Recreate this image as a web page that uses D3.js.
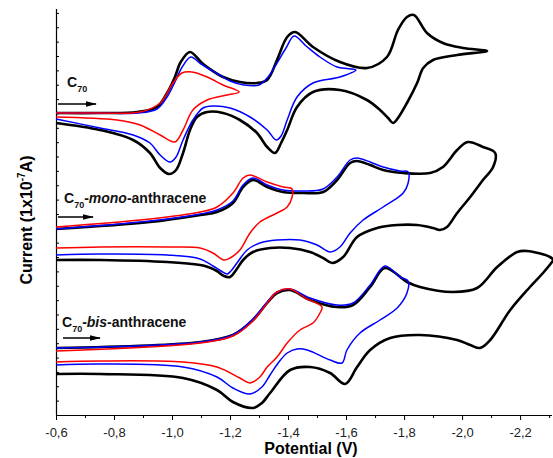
<!DOCTYPE html>
<html>
<head>
<meta charset="utf-8">
<script src="https://cdn.jsdelivr.net/npm/d3@7"></script>
<style>
  body { margin: 0; background: #fff; }
  text { font-family: "Liberation Sans", Arial, sans-serif; }
</style>
</head>
<body>
<div id="chart"></div>
<script>
// potential (V) vs current (arbitrary offset units)
const c70Black = [
  [-0.60,30.2],[-0.75,30.2],[-0.88,30.3],[-0.948,30.8],[-0.983,32.2],[-1.01,33.8],[-1.03,35.3],[-1.062,36.3],
  [-1.10,35.3],[-1.121,34.8],[-1.176,33.8],[-1.234,33.3],[-1.293,33.2],[-1.328,33.5],[-1.362,35.5],[-1.397,37.8],
  [-1.424,38.3],[-1.486,36.8],[-1.579,35.3],[-1.672,34.7],[-1.741,35.8],[-1.779,38.5],[-1.81,39.8],[-1.834,40.0],
  [-1.879,38.2],[-1.934,37.2],[-2.003,36.7],[-2.086,36.4],
  [-1.983,36.0],[-1.90,35.5],[-1.866,34.7],[-1.845,33.2],[-1.81,31.2],[-1.779,29.7],[-1.762,29.2],[-1.745,29.7],
  [-1.717,30.5],[-1.672,31.5],[-1.579,32.5],[-1.486,32.3],[-1.431,30.8],[-1.397,28.5],[-1.376,27.2],
  [-1.355,26.2],[-1.328,26.8],[-1.293,28.2],[-1.234,29.5],[-1.176,30.2],[-1.121,30.3],[-1.086,29.8],[-1.062,28.5],
  [-1.038,26.2],[-1.014,24.5],[-0.99,24.1],[-0.959,24.7],[-0.924,26.2],[-0.866,27.5],[-0.752,28.5],[-0.60,29.2]
];
const c70Blue = [
  [-0.60,30.2],[-0.75,30.2],[-0.88,30.2],[-0.948,30.6],[-0.983,31.8],[-1.01,33.3],[-1.035,34.8],[-1.065,35.8],
  [-1.10,35.1],[-1.152,34.2],[-1.20,33.4],[-1.248,33.0],[-1.30,33.0],[-1.331,33.8],[-1.362,35.2],[-1.393,36.7],
  [-1.421,37.9],[-1.462,36.9],[-1.51,35.8],[-1.569,34.8],[-1.634,34.5],
  [-1.579,33.8],[-1.486,33.2],[-1.431,31.8],[-1.397,29.5],[-1.376,27.9],[-1.359,27.5],[-1.328,28.5],[-1.269,29.8],
  [-1.20,30.7],[-1.141,30.9],[-1.107,30.7],[-1.072,29.5],[-1.038,27.5],[-1.014,25.8],[-0.993,25.3],[-0.959,26.0],
  [-0.924,27.2],[-0.866,28.0],[-0.752,28.7],[-0.60,29.6]
];
const c70Red = [
  [-0.60,30.2],[-0.75,30.2],[-0.89,30.3],[-0.959,31.2],[-1.003,33.2],[-1.034,34.2],[-1.069,34.3],[-1.121,33.8],
  [-1.176,33.0],[-1.231,32.3],
  [-1.19,32.0],[-1.121,31.5],[-1.072,30.5],[-1.038,28.5],[-1.01,27.3],[-0.959,28.0],[-0.89,29.0],[-0.81,29.5],
  [-0.60,29.8]
];

const monoBlack = [
  [-0.60,18.6],[-0.924,19.3],[-1.097,20.0],[-1.155,20.3],[-1.21,21.2],[-1.245,22.8],[-1.279,23.5],[-1.328,22.8],
  [-1.383,22.3],[-1.452,22.2],[-1.521,22.3],[-1.569,23.5],[-1.614,25.2],[-1.638,25.4],[-1.683,25.0],[-1.728,24.5],
  [-1.797,24.2],[-1.89,24.2],[-1.934,24.8],[-1.983,26.5],[-2.02,27.3],[-2.072,26.8],[-2.114,26.2],
  [-2.107,24.8],[-2.072,23.5],[-2.028,21.8],[-1.983,20.2],[-1.948,18.8],[-1.924,18.5],[-1.90,18.7],[-1.845,19.0],
  [-1.776,19.0],[-1.707,18.7],[-1.638,17.8],[-1.59,15.8],[-1.552,15.2],[-1.521,15.7],[-1.476,16.3],[-1.407,16.7],
  [-1.338,16.7],[-1.279,16.3],[-1.245,15.5],[-1.221,14.5],[-1.20,13.8],[-1.179,13.9],[-1.155,14.4],[-1.124,14.8],
  [-1.097,15.0],[-0.983,15.3],[-0.752,15.5],[-0.60,15.5]
];
const monoBlue = [
  [-0.60,18.6],[-0.924,19.4],[-1.097,20.1],[-1.155,20.5],[-1.21,21.4],[-1.245,23.0],[-1.279,23.7],[-1.328,23.0],
  [-1.383,22.5],[-1.452,22.4],[-1.521,22.6],[-1.569,23.8],[-1.614,25.5],[-1.638,25.7],[-1.683,25.3],[-1.728,24.8],
  [-1.786,24.4],[-1.814,24.3],
  [-1.814,23.2],[-1.797,22.2],[-1.728,20.8],[-1.659,19.5],[-1.614,18.2],[-1.579,16.8],[-1.545,16.3],[-1.50,17.0],
  [-1.441,17.5],[-1.362,17.5],[-1.303,17.2],[-1.259,16.5],[-1.224,15.2],[-1.203,14.4],[-1.19,14.1],[-1.169,14.4],
  [-1.141,14.9],[-1.097,15.6],[-0.983,16.0],[-0.752,16.1],[-0.60,16.0]
];
const monoRed = [
  [-0.60,18.8],[-0.924,19.6],[-1.097,20.3],[-1.155,20.8],[-1.21,22.2],[-1.245,23.7],[-1.269,24.0],[-1.328,23.3],
  [-1.383,22.8],[-1.414,22.6],
  [-1.414,21.8],[-1.397,20.8],[-1.362,20.2],[-1.303,19.3],[-1.269,18.2],[-1.234,16.5],[-1.20,15.7],[-1.179,15.5],
  [-1.141,16.2],[-1.097,16.7],[-0.983,16.8],[-0.752,16.8],[-0.60,16.7]
];

const bisBlack = [
  [-0.60,6.7],[-1.097,7.3],[-1.21,8.0],[-1.279,9.5],[-1.328,11.2],[-1.362,12.2],[-1.407,12.5],[-1.476,11.5],
  [-1.569,10.8],[-1.624,11.0],[-1.683,12.8],[-1.734,14.7],[-1.81,13.3],[-1.855,12.8],[-1.969,12.3],[-2.052,12.7],
  [-2.121,14.8],[-2.19,16.3],[-2.224,16.4],[-2.303,15.8],[-2.314,15.5],
  [-2.31,15.3],[-2.279,14.2],[-2.234,12.8],[-2.166,10.5],[-2.097,7.5],[-2.062,6.7],[-2.028,7.0],[-1.983,7.5],
  [-1.855,8.0],[-1.752,7.7],[-1.683,6.5],[-1.638,4.8],[-1.597,3.1],[-1.545,4.2],[-1.476,4.8],[-1.407,4.5],
  [-1.338,2.2],[-1.31,1.2],[-1.279,0.7],[-1.21,1.3],[-1.155,2.5],[-1.038,3.7],[-0.752,4.1],[-0.60,4.1]
];
const bisBlue = [
  [-0.60,6.7],[-1.097,7.3],[-1.21,8.0],[-1.279,9.6],[-1.328,11.3],[-1.362,12.3],[-1.407,12.6],[-1.476,11.7],
  [-1.569,11.0],[-1.624,11.2],[-1.683,13.0],[-1.734,14.9],[-1.786,13.8],[-1.814,13.4],
  [-1.81,12.2],[-1.776,10.7],[-1.717,9.5],[-1.648,8.2],[-1.603,6.5],[-1.586,5.2],[-1.545,5.5],[-1.466,6.5],
  [-1.431,6.6],[-1.397,6.2],[-1.366,5.2],[-1.338,4.0],[-1.31,2.8],[-1.269,2.1],[-1.21,2.7],[-1.155,3.8],
  [-1.038,4.8],[-0.752,5.1],[-0.60,5.0]
];
const bisRed = [
  [-0.60,6.4],[-1.097,7.2],[-1.21,7.9],[-1.279,9.4],[-1.328,11.2],[-1.362,12.3],[-1.407,12.6],[-1.459,11.7],
  [-1.517,10.8],
  [-1.51,10.2],[-1.486,9.2],[-1.441,8.5],[-1.397,7.2],[-1.362,5.8],[-1.328,4.8],[-1.303,3.8],[-1.269,3.2],
  [-1.234,3.7],[-1.155,4.8],[-1.038,5.3],[-0.752,5.4],[-0.60,5.3]
];

const xMajorTicks = [-0.6, -0.8, -1.0, -1.2, -1.4, -1.6, -1.8, -2.0, -2.2];
const xMinorTicks = [-0.7, -0.9, -1.1, -1.3, -1.5, -1.7, -1.9, -2.1, -2.3];

const svgWidth = 553;
const svgHeight = 458;
const margin = { top: 9, right: 1, bottom: 43, left: 56 };
const width = svgWidth - margin.left - margin.right;
const height = svgHeight - margin.top - margin.bottom;

const svg = d3.select("#chart")
  .append("svg")
  .attr("width", svgWidth)
  .attr("height", svgHeight);

svg.append("defs").append("marker")
  .attr("id", "arrow")
  .attr("markerUnits", "userSpaceOnUse")
  .attr("markerWidth", 11)
  .attr("markerHeight", 8)
  .attr("refX", 10)
  .attr("refY", 4)
  .attr("orient", "auto")
  .append("path")
  .attr("d", "M0,1.2 L11,4 L0,6.8 z")
  .attr("fill", "#000");

const chartGroup = svg.append("g")
  .attr("transform", `translate(${margin.left}, ${margin.top})`);

const xScale = d3.scaleLinear().domain([-0.6, -2.31]).range([0, width]);
const yScale = d3.scaleLinear().domain([0, 40.6]).range([height, 0]);

// x axis, major + minor ticks pointing out
const bottomAxis = d3.axisBottom(xScale)
  .tickValues(xMajorTicks)
  .tickSize(5)
  .tickFormat(d => d.toFixed(1).replace(".", ","));
const xAxis = chartGroup.append("g")
  .attr("transform", `translate(0, ${height})`)
  .call(bottomAxis);
xAxis.select(".domain").attr("d", `M0,0.5H${width}`).attr("stroke-width", 1.2);
xAxis.selectAll("text").attr("font-size", "13px").attr("dy", "1.05em").attr("fill", "#222");

chartGroup.append("g")
  .attr("transform", `translate(0, ${height})`)
  .call(d3.axisBottom(xScale).tickValues(xMinorTicks).tickSize(3).tickFormat(""))
  .select(".domain").remove();

// y axis, no labels, ticks inside
const yTickValues = d3.range(0, 40.7, 1.436);
const leftAxis = d3.axisRight(yScale).tickValues(yTickValues).tickSize(3).tickFormat("");
const yAxis = chartGroup.append("g").call(leftAxis);
yAxis.select(".domain").attr("d", `M0.5,0V${height}`).attr("stroke-width", 1.2);

const line = d3.line()
  .x(d => xScale(d[0]))
  .y(d => yScale(d[1]))
  .curve(d3.curveCatmullRom.alpha(0.5));

const curves = [
  { data: c70Black, color: "#000", w: 2.6 },
  { data: monoBlack, color: "#000", w: 2.6 },
  { data: bisBlack, color: "#000", w: 2.6 },
  { data: c70Blue, color: "#0000ff", w: 1.5 },
  { data: monoBlue, color: "#0000ff", w: 1.5 },
  { data: bisBlue, color: "#0000ff", w: 1.5 },
  { data: c70Red, color: "#ff0000", w: 1.5 },
  { data: monoRed, color: "#ff0000", w: 1.5 },
  { data: bisRed, color: "#ff0000", w: 1.5 }
];

chartGroup.selectAll("path.cv")
  .data(curves)
  .join("path")
  .classed("cv", true)
  .attr("d", d => line(d.data))
  .attr("fill", "none")
  .attr("stroke", d => d.color)
  .attr("stroke-width", d => d.w)
  .attr("stroke-linejoin", "round");

// compound labels with scan direction arrows
const labels = [
  { x: 67, y: 87, italic: "", rest: "", arrowY: 104, x1: 58, x2: 96 },
  { x: 64, y: 203, italic: "mono", rest: "-anthracene", arrowY: 217, x1: 58, x2: 93 },
  { x: 62, y: 327, italic: "bis", rest: "-anthracene", arrowY: 338, x1: 63, x2: 100 }
];

labels.forEach(l => {
  const t = svg.append("text")
    .attr("x", l.x)
    .attr("y", l.y)
    .attr("font-size", "14px")
    .attr("font-weight", "bold")
    .attr("fill", "#111");
  t.append("tspan").text("C");
  t.append("tspan").attr("font-size", "9px").attr("dy", 5).text("70");
  if (l.italic) {
    t.append("tspan").attr("dy", -5).text("-");
    t.append("tspan").attr("font-style", "italic").text(l.italic);
    t.append("tspan").text(l.rest);
  }
  svg.append("line")
    .attr("x1", l.x1)
    .attr("x2", l.x2)
    .attr("y1", l.arrowY)
    .attr("y2", l.arrowY)
    .attr("stroke", "#000")
    .attr("stroke-width", 1.3)
    .attr("marker-end", "url(#arrow)");
});

// axis titles
svg.append("text")
  .attr("x", 311)
  .attr("y", 454)
  .attr("text-anchor", "middle")
  .attr("font-size", "16px")
  .attr("font-weight", "bold")
  .text("Potential (V)");

const yTitle = svg.append("text")
  .attr("transform", "translate(32, 220) rotate(-90)")
  .attr("text-anchor", "middle")
  .attr("font-size", "16px")
  .attr("font-weight", "bold");
yTitle.append("tspan").text("Current (1x10");
yTitle.append("tspan").attr("font-size", "10px").attr("dy", -7).text("-7");
yTitle.append("tspan").attr("dy", 7).text("A)");
</script>
</body>
</html>
